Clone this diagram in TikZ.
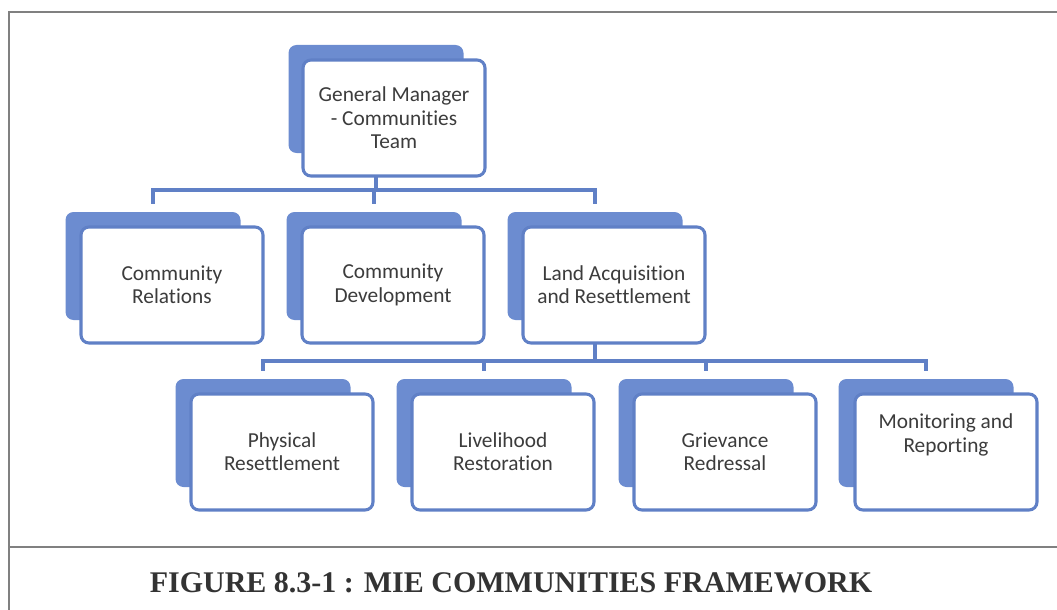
\documentclass[tikz,border=0pt]{standalone}
\usepackage{fontspec}
\setmainfont{Liberation Serif}
\newfontfamily\boxfont[Ligatures={NoCommon}]{Carlito}
\usetikzlibrary{calc}
\definecolor{backblue}{RGB}{108,140,208}
\definecolor{lineblue}{RGB}{96,128,198}
\definecolor{txtgray}{RGB}{60,60,60}
\definecolor{framegray}{RGB}{128,128,128}
\tikzset{
  front/.style={draw=lineblue, fill=white, line width=2.3pt, rounded corners=6pt,
    minimum width=136.5pt, minimum height=87pt, inner sep=0pt, outer sep=0pt,
    align=center, text=txtgray, font=\boxfont\fontsize{16}{17.5}\selectfont},
  back/.style={fill=backblue, rounded corners=6pt, minimum width=131.25pt,
    minimum height=81pt, inner sep=0pt, outer sep=0pt},
  conn/.style={draw=lineblue, line width=3.2pt},
  frameline/.style={draw=framegray, line width=1.5pt}
}
\begin{document}
\begin{tikzpicture}[x=0.75pt, y=-0.75pt]
\useasboundingbox (0,0) rectangle (1057,610);
% frame
\draw[frameline] (1057,12) -- (9,12) -- (9,610);
\draw[frameline] (9,547) -- (1057,547);
% back shapes
\node[back] (gmB) at (376,99) {};
\node[back] (crB) at (153,266) {};
\node[back] (cdB) at (374,266) {};
\node[back] (laB) at (595,266) {};
\node[back] (prB) at (263,433) {};
\node[back] (lrB) at (484,433) {};
\node[back] (grB) at (706,433) {};
\node[back] (mrB) at (926,433) {};
% connectors
\draw[conn] (gmB.center |- 0,177) -- (gmB.center |- 0,190) -| ([yshift=6pt]crB.north);
\draw[conn] (gmB.center |- 0,177) -- (gmB.center |- 0,190) -| ([yshift=6pt]cdB.north);
\draw[conn] (gmB.center |- 0,177) -- (gmB.center |- 0,190) -| ([yshift=6pt]laB.north);
\draw[conn] (laB.center |- 0,343) -- (laB.center |- 0,361) -| ([yshift=6pt]prB.north);
\draw[conn] (laB.center |- 0,343) -- (laB.center |- 0,361) -| ([yshift=6pt]lrB.north);
\draw[conn] (laB.center |- 0,343) -- (laB.center |- 0,361) -| ([yshift=6pt]grB.north);
\draw[conn] (laB.center |- 0,343) -- (laB.center |- 0,361) -| ([yshift=6pt]mrB.north);
% front boxes
\node[front] (gm) at (394,118) {General Manager\\- Communities\\Team};
\node[front] (cr) at (172,285) {Community\\Relations};
\node[front] (cd) at (393,285) {Community\\Development};
\node[front] (la) at (614,285) {Land Acquisition\\and Resettlement};
\node[front] (pr) at (282,452) {Physical\\Resettlement};
\node[front] (lr) at (503,452) {Livelihood\\Restoration};
\node[front] (gr) at (725,452) {Grievance\\Redressal};
\node[front] (mr) at (946,452) {};
\node[text=txtgray, font=\boxfont\fontsize{16}{17.5}\selectfont, align=center] (mrt) at (946,435) {Monitoring and\\Reporting};
% caption
\node[font=\bfseries\fontsize{22.5}{24}\selectfont, text=black!80] (cap) at (511,583) {FIGURE 8.3-1 : MIE COMMUNITIES FRAMEWORK};
\end{tikzpicture}
\end{document}
